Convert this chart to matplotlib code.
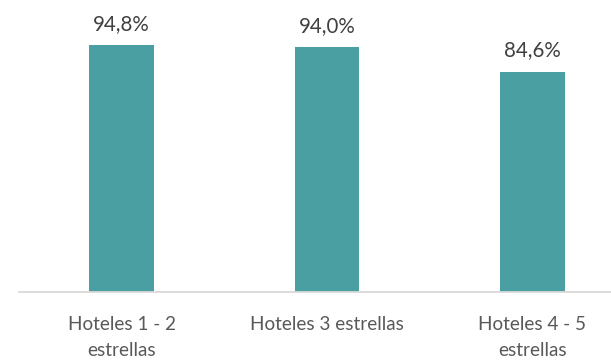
import matplotlib.pyplot as plt
import numpy as np

categorias = ['Hoteles 1 - 2\nestrellas', 'Hoteles 3 estrellas', 'Hoteles 4 - 5\nestrellas']
ocupacion = [94.8, 94.0, 84.6]

plt.rcParams['font.family'] = ['Lato', 'DejaVu Sans']

fig = plt.figure(figsize=(6.11, 3.61), dpi=100)
ax = fig.add_axes([18.75 / 611, (361 - 292) / 361, 616.5 / 611, (292 - 31.5) / 361])

x = np.arange(len(categorias))
ax.bar(x, ocupacion, width=0.316, color='#4A9FA3')
for xi, v in zip(x, ocupacion):
    ax.text(xi, v + 4.3, '{:.1f}%'.format(v).replace('.', ','), ha='center', va='bottom',
            fontsize=14.8, color='#404040', clip_on=False)

ax.set_xlim(-0.5, 2.5)
ax.set_ylim(0, 100)
ax.set_xticks(x)
ax.set_xticklabels(categorias, fontsize=13.6, color='#595959', linespacing=1.7)
ax.tick_params(axis='x', length=0, pad=17)
ax.set_yticks([])
for lado in ['top', 'right', 'left']:
    ax.spines[lado].set_visible(False)
ax.spines['bottom'].set_color('#D9D9D9')
ax.spines['bottom'].set_linewidth(1.3)

fig.savefig('out.png', dpi=100, facecolor='white')
